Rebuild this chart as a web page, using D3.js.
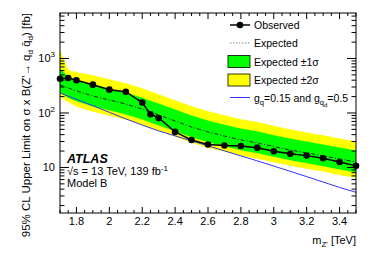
<!DOCTYPE html>
<html><head><meta charset="utf-8">
<script src="https://d3js.org/d3.v7.min.js"></script>
<style>
html,body{margin:0;padding:0;background:#fff;}
svg{display:block;font-family:"Liberation Sans",Arial,Helvetica,sans-serif;}
</style></head>
<body><svg id="c" width="374" height="253"></svg>
<script>
// ---- data ----
const masses = [1.7,1.75,1.8,1.9,2.0,2.1,2.2,2.25,2.3,2.4,2.5,2.6,2.7,2.8,2.9,3.0,3.1,3.2,3.3,3.4,3.5];
const observed = [426,438,398,331,268,246,155,95,81,45,32,26.4,25.3,24.8,23.1,19.8,17.9,16.5,14.8,12.6,10.7];
const expected = [327,288,254,205,173,146,118,104,91.8,71.3,55.3,44.8,37.8,32.0,28.2,24.3,20.9,18.5,16.3,14.3,12.6];
const onePlus  = [670,458,411,332,280,237,191,168,149,116,90,73,61,52,46,39,34,30,26.4,23.2,20.4];
const oneMinus = [243,188,164,132,112,94,76,67,59,46,35.7,28.9,24.4,20.6,18.2,15.7,13.5,11.9,10.5,9.2,8.1];
const twoPlus  = [1430,615,560,492,415,350,283,250,220,171,133,108,91,77,68,58,50,44,39,34,30];
const twoMinus = [196,159,130,105,89,75,60.5,53,47,36.6,28.4,23,19.4,16.4,14.5,12.5,10.7,9.5,8.4,7.3,6.5];
const theoryMass = [1.7,1.8,1.9,2.0,2.1,2.2,2.3,2.4,2.5,2.6,2.7,2.8,2.9,3.0,3.1,3.2,3.3,3.4,3.5];
const theory = [233,178,136,103,78,60,47,38,30.8,24.9,20.2,16.3,13.2,10.6,8.5,6.8,5.4,4.3,3.5];
const xMajorTicks = [1.8,2.0,2.2,2.4,2.6,2.8,3.0,3.2,3.4];
const yMajorTicks = [10,100,1000];
const yTickLabels = ["10","10^2","10^3"];

// ---- layout ----
const W=374,H=253;
const m={top:13,right:18,bottom:40,left:60};
const pw=W-m.left-m.right, ph=H-m.top-m.bottom;
const svg=d3.select("#c");
const g=svg.append("g").attr("transform",`translate(${m.left},${m.top})`);
const x=d3.scaleLinear().domain([1.7,3.5]).range([0,pw]);
const y=d3.scaleLog().domain([1.46,6840]).range([ph,0]);

const idx=d3.range(masses.length);
const area=(lo,hi)=>d3.area().x(i=>x(masses[i])).y0(i=>y(lo[i])).y1(i=>y(hi[i]));
g.append("path").datum(idx).attr("d",area(twoMinus,twoPlus)).attr("fill","#ffff00");
g.append("path").datum(idx).attr("d",area(oneMinus,onePlus)).attr("fill","#00ff00");

const line=(xs,ys)=>d3.line().x(i=>x(xs[i])).y(i=>y(ys[i]));
g.append("path").datum(idx).attr("d",line(masses,expected))
 .attr("fill","none").attr("stroke","#222").attr("stroke-width",1).attr("stroke-dasharray","4,2,1,2");
g.append("path").datum(d3.range(theoryMass.length)).attr("d",line(theoryMass,theory))
 .attr("fill","none").attr("stroke","#3333ff").attr("stroke-width",1);
g.append("path").datum(idx).attr("d",line(masses,observed))
 .attr("fill","none").attr("stroke","#000").attr("stroke-width",1.5);
g.selectAll("circle.obs").data(idx).enter().append("circle")
 .attr("cx",i=>x(masses[i])).attr("cy",i=>y(observed[i])).attr("r",3.3).attr("fill","#000");

// ---- frame & ticks ----
g.append("rect").attr("width",pw).attr("height",ph).attr("fill","none").attr("stroke","#000").attr("stroke-width",1);
const ax=g.append("g").attr("stroke","#000").attr("stroke-width",1);
const xMinor=d3.range(1.7,3.5001,0.05).map(v=>+v.toFixed(2));
xMinor.forEach(v=>{
  const major=xMajorTicks.some(t=>Math.abs(t-v)<1e-6);
  const L=major?6:3, xx=x(v);
  ax.append("line").attr("x1",xx).attr("x2",xx).attr("y1",ph).attr("y2",ph-L);
  ax.append("line").attr("x1",xx).attr("x2",xx).attr("y1",0).attr("y2",L);
});
const [ylo,yhi]=y.domain();
for(let dec=1;dec<=1000;dec*=10){
  for(let k=1;k<=9;k++){
    const v=k*dec; if(v<ylo||v>yhi) continue;
    const L=k===1?9:4.5, yy=y(v);
    ax.append("line").attr("x1",0).attr("x2",L).attr("y1",yy).attr("y2",yy);
    ax.append("line").attr("x1",pw).attr("x2",pw-L).attr("y1",yy).attr("y2",yy);
  }
}
// x tick labels
g.selectAll("text.xt").data(xMajorTicks).enter().append("text")
 .attr("x",d=>x(d)).attr("y",ph+12).attr("text-anchor","middle").attr("font-size",11)
 .text(d=>d3.format("~g")(d));
// y tick labels
yMajorTicks.forEach((v,i)=>{
  const t=g.append("text").attr("x",-5).attr("y",y(v)+4).attr("text-anchor","end").attr("font-size",11);
  const parts=yTickLabels[i].split("^");
  t.append("tspan").text(parts[0]);
  if(parts[1]) t.append("tspan").attr("font-size",8).attr("dy",-5).text(parts[1]);
});
// axis titles
const xt=svg.append("text").attr("x",m.left+pw).attr("y",244).attr("text-anchor","end").attr("font-size",11);
xt.append("tspan").text("m");
xt.append("tspan").attr("font-size",8).attr("dy",3).text("Z'");
xt.append("tspan").attr("dy",-3).text(" [TeV]");

const yt=svg.append("text").attr("transform",`translate(30,${m.top}) rotate(-90)`).attr("text-anchor","end").attr("font-size",11.5);
yt.append("tspan").text("95% CL Upper Limit on  σ x B(Z'→ q");
yt.append("tspan").attr("font-size",8).attr("dy",3).text("d");
yt.append("tspan").attr("dy",-3).text(" q̄");
yt.append("tspan").attr("font-size",8).attr("dy",3).text("d");
yt.append("tspan").attr("dy",-3).text(") [fb]");

// ---- legend ----
const lg=svg.append("g").attr("font-size",10.5);
const lx1=230,lx2=250,tx=254;
const rows=[25,43,61.5,80,97.5];
lg.append("line").attr("x1",lx1).attr("x2",lx2).attr("y1",rows[0]).attr("y2",rows[0]).attr("stroke","#000").attr("stroke-width",1.5);
lg.append("circle").attr("cx",(lx1+lx2)/2).attr("cy",rows[0]).attr("r",3.3).attr("fill","#000");
lg.append("text").attr("x",tx).attr("y",rows[0]+4).text("Observed");
lg.append("line").attr("x1",lx1).attr("x2",lx2).attr("y1",rows[1]).attr("y2",rows[1]).attr("stroke","#888").attr("stroke-width",1).attr("stroke-dasharray","1.5,1.5");
lg.append("text").attr("x",tx).attr("y",rows[1]+4).text("Expected");
lg.append("rect").attr("x",228).attr("y",rows[2]-6).attr("width",22).attr("height",12).attr("fill","#00ff00").attr("stroke","#000").attr("stroke-width",0.8);
lg.append("text").attr("x",tx).attr("y",rows[2]+4).text("Expected ±1σ");
lg.append("rect").attr("x",228).attr("y",rows[3]-6).attr("width",22).attr("height",12).attr("fill","#ffff00").attr("stroke","#000").attr("stroke-width",0.8);
lg.append("text").attr("x",tx).attr("y",rows[3]+4).text("Expected ±2σ");
lg.append("line").attr("x1",lx1).attr("x2",lx2).attr("y1",rows[4]).attr("y2",rows[4]).attr("stroke","#3333ff").attr("stroke-width",1);
const gt=lg.append("text").attr("x",tx).attr("y",rows[4]+4);
gt.append("tspan").text("g");
gt.append("tspan").attr("font-size",7.5).attr("dy",3).text("q");
gt.append("tspan").attr("dy",-3).text("=0.15 and g");
gt.append("tspan").attr("font-size",7.5).attr("dy",3).text("q");
gt.append("tspan").attr("font-size",6).attr("dy",2).text("d");
gt.append("tspan").attr("dy",-5).text("=0.5");

// ---- ATLAS label ----
svg.append("text").attr("x",67).attr("y",163).attr("font-size",12.5).attr("font-weight","bold").attr("font-style","italic").text("ATLAS");
const s=svg.append("text").attr("x",67).attr("y",175).attr("font-size",11);
s.append("tspan").text("√s = 13 TeV, 139 fb");
s.append("tspan").attr("font-size",8).attr("dy",-4).text("-1");
svg.append("text").attr("x",67).attr("y",187).attr("font-size",11).text("Model B");
</script></body></html>
